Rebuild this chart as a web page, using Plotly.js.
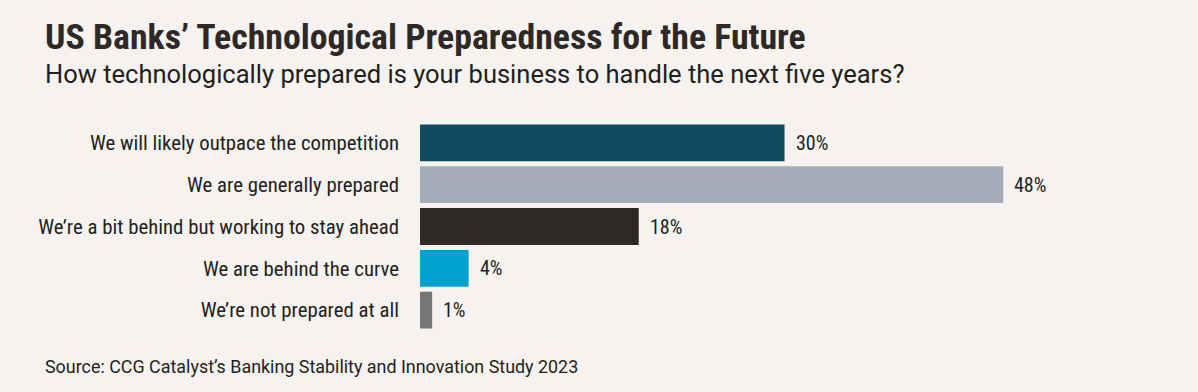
<!DOCTYPE html>
<html>
<head>
<meta charset="utf-8">
<script src="https://cdn.plot.ly/plotly-3.0.1.min.js"></script>
<style>
html,body{margin:0;padding:0;background:#f5f2ef;}
#chart{width:1198px;height:392px;}
</style>
</head>
<body>
<div id="chart"></div>
<script>
const categories = [
  "We will likely outpace the competition",
  "We are generally prepared",
  "We\u2019re a bit behind but working to stay ahead",
  "We are behind the curve",
  "We\u2019re not prepared at all"
];
const values = [30, 48, 18, 4, 1];
const valueLabels = ["30%", "48%", "18%", "4%", "1%"];
const barColors = ["#0f4a5e", "#a3acb7", "#2e2926", "#00a0d0", "#767676"];

const COND = "'Roboto Condensed', 'Liberation Sans Narrow', 'DejaVu Sans Condensed', sans-serif";
const REG = "Roboto, 'Liberation Sans', sans-serif";
const L = 420, R = 0, W = 1198;
const plotW = W - L - R;
const toPaperX = px => (px - L) / plotW;

const trace = {
  type: "bar",
  orientation: "h",
  x: values,
  y: categories,
  marker: {color: barColors},
  hoverinfo: "none"
};

const annotations = values.map((v, i) => ({
  x: v, y: categories[i], xref: "x", yref: "y",
  text: valueLabels[i], showarrow: false,
  xanchor: "left", xshift: 9,
  font: {family: COND, size: 20, color: "#231f20"}
}));

annotations.push({
  xref: "paper", yref: "paper", x: toPaperX(43), y: 0,
  yanchor: "top", xanchor: "left", yshift: -23,
  text: "Source: CCG Catalyst\u2019s Banking Stability and Innovation Study 2023",
  showarrow: false,
  font: {family: REG, size: 17.9, color: "#231f20"}
});
annotations.push({
  xref: "paper", yref: "paper", x: toPaperX(43), y: 1,
  yanchor: "bottom", xanchor: "left", yshift: 30.5,
  text: "How technologically prepared is your business to handle the next five years?",
  showarrow: false,
  font: {family: REG, size: 25.5, color: "#231f20"}
});
annotations.push({
  xref: "paper", yref: "paper", x: toPaperX(43), y: 1,
  yanchor: "bottom", xanchor: "left", yshift: 61.5,
  text: "<b>US Banks\u2019 Technological Preparedness for the Future</b>",
  showarrow: false,
  font: {family: COND, size: 35.8, color: "#2e2926"}
});

const layout = {
  width: 1198, height: 392,
  paper_bgcolor: "#f5f2ef", plot_bgcolor: "#f5f2ef",
  margin: {l: L, r: R, t: 121.5, b: 61},
  bargap: 0.12,
  showlegend: false,
  xaxis: {range: [0, 64.03], visible: false, fixedrange: true},
  yaxis: {
    autorange: "reversed", showgrid: false, zeroline: false, showline: false,
    ticks: "", ticklabelstandoff: 20,
    tickfont: {family: COND, size: 20.8, color: "#231f20"}
  },
  annotations: annotations
};

Plotly.newPlot("chart", [trace], layout, {displayModeBar: false, staticPlot: true});
</script>
</body>
</html>
